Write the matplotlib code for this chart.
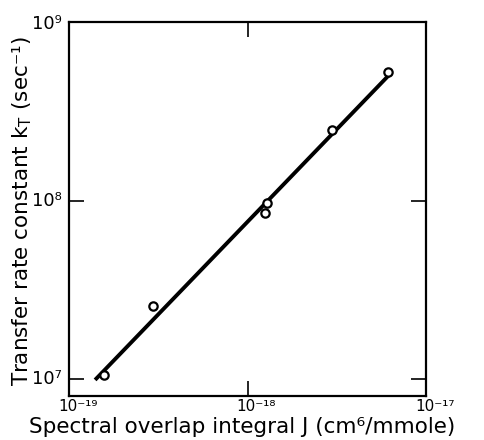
import matplotlib
matplotlib.use("Agg")
import matplotlib.pyplot as plt
import matplotlib.transforms as mtransforms
import numpy as np

# Data
overlap_J = [1.57e-19, 2.96e-19, 1.25e-18, 1.29e-18, 2.96e-18, 6.1e-18]
rate_kT = [1.05e7, 2.58e7, 8.6e7, 9.75e7, 2.51e8, 5.35e8]
fit_J = [1.40e-19, 6.2e-18]
fit_kT = [9.9e6, 5.14e8]

x_tick_vals = [1e-19, 1e-18, 1e-17]
x_tick_labels = ['10⁻¹⁹', '10⁻¹⁸', '10⁻¹⁷']
y_tick_vals = [1e7, 1e8, 1e9]
y_tick_labels = ['10⁷', '10⁸', '10⁹']

plt.rcParams['font.family'] = ['DejaVu Sans']
plt.rcParams['mathtext.fontset'] = 'dejavusans'

fig = plt.figure(figsize=(4.84, 4.4), dpi=100)
ax = fig.add_axes([69/484, 1 - 396/440, 357/484, 374/440])

ax.plot(fit_J, fit_kT, color='black', lw=2.8, solid_capstyle='butt', zorder=2)
ax.plot(overlap_J, rate_kT, linestyle='none', marker='o', ms=6, mfc='white',
        mec='black', mew=1.6, zorder=3)

ax.set_xscale('log')
ax.set_yscale('log')
ax.set_xlim(1e-19, 1e-17)
ax.set_ylim(10**6.905, 10**9.01)

ax.minorticks_off()
ax.set_xticks([1e-18])
ax.set_xticklabels([])
ax.set_yticks([1e7, 1e8])
ax.set_yticklabels([])
ax.tick_params(axis='both', which='major', direction='in', length=11, width=1.2,
               top=True, right=True)
for s in ax.spines.values():
    s.set_linewidth(1.6)

# tick labels placed as in the reference
xt = mtransforms.offset_copy(ax.get_xaxis_transform(), fig=fig, x=9, y=-3, units='dots')
for v, lab in zip(x_tick_vals, x_tick_labels):
    ax.text(v, 0, lab, transform=xt, ha='center', va='top', fontsize=11)
for v, lab in zip(y_tick_vals, y_tick_labels):
    ax.text(-0.02, v, lab, transform=ax.get_yaxis_transform(), ha='right', va='center',
            fontsize=13)

fig.text(0.5, 7/440, 'Spectral overlap integral J (cm⁶/mmole)', ha='center',
         va='baseline', fontsize=15.5)
fig.text(0.045, 0.52, r'Transfer rate constant k$_{\mathrm{T}}$ (sec⁻¹)', rotation=90,
         ha='center', va='center', fontsize=15.5)

fig.savefig('out.png', dpi=100, facecolor='white')
